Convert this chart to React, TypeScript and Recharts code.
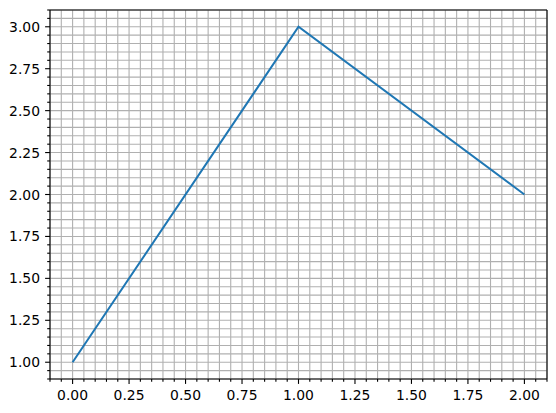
import { LineChart, Line, XAxis, YAxis, CartesianGrid } from 'recharts';

// values
const xValues = [0, 1, 2];
const yValues = [1, 3, 2];

// minor ticks every 0.05, majors every 0.25
const xTicks = [-0.1, -0.05, 0, 0.05, 0.1, 0.15, 0.2, 0.25, 0.3, 0.35, 0.4, 0.45, 0.5, 0.55, 0.6, 0.65, 0.7, 0.75, 0.8, 0.85, 0.9, 0.95, 1, 1.05, 1.1, 1.15, 1.2, 1.25, 1.3, 1.35, 1.4, 1.45, 1.5, 1.55, 1.6, 1.65, 1.7, 1.75, 1.8, 1.85, 1.9, 1.95, 2, 2.05, 2.1];
const yTicks = [0.9, 0.95, 1, 1.05, 1.1, 1.15, 1.2, 1.25, 1.3, 1.35, 1.4, 1.45, 1.5, 1.55, 1.6, 1.65, 1.7, 1.75, 1.8, 1.85, 1.9, 1.95, 2, 2.05, 2.1, 2.15, 2.2, 2.25, 2.3, 2.35, 2.4, 2.45, 2.5, 2.55, 2.6, 2.65, 2.7, 2.75, 2.8, 2.85, 2.9, 2.95, 3, 3.05, 3.1];

const data = xValues.map((x, i) => ({ x, y: yValues[i] }));

const FONT = '"DejaVu Sans", sans-serif';
const isMajor = (v: number) => Math.abs(v * 4 - Math.round(v * 4)) < 1e-6;

function XTick({ x, y, payload }: any) {
  const v = payload.value as number;
  const major = isMajor(v);
  return (
    <g>
      <line x1={x} x2={x} y1={y} y2={y + (major ? 4.9 : 2.8)} stroke="#000" strokeWidth={1.1} />
      {major && (
        <text x={x} y={y + 21} textAnchor="middle" fontFamily={FONT} fontSize={13.9} fill="#000">
          {v.toFixed(2)}
        </text>
      )}
    </g>
  );
}

function YTick({ x, y, payload }: any) {
  const v = payload.value as number;
  const major = isMajor(v);
  return (
    <g>
      <line x1={x} x2={x - (major ? 4.9 : 2.8)} y1={y} y2={y} stroke="#000" strokeWidth={1.1} />
      {major && (
        <text x={x - 10} y={y} dy="0.36em" textAnchor="end" fontFamily={FONT} fontSize={13.9} fill="#000">
          {v.toFixed(2)}
        </text>
      )}
    </g>
  );
}

export default function App() {
  return (
    <div style={{ position: 'absolute', left: 0, top: 0, width: 556, height: 413, background: '#fff' }}>
      <LineChart width={556} height={413} data={data} margin={{ top: 10, right: 9, left: 0, bottom: 0 }}>
        <CartesianGrid stroke="#b0b0b0" strokeWidth={1.1} />
        <XAxis
          dataKey="x"
          type="number"
          domain={[-0.1, 2.1]}
          ticks={xTicks}
          interval={0}
          height={34}
          tickSize={0}
          tickMargin={0}
          tickLine={false}
          axisLine={false}
          tick={<XTick />}
        />
        <YAxis
          type="number"
          domain={[0.9, 3.1]}
          ticks={yTicks}
          interval={0}
          width={50}
          tickSize={0}
          tickMargin={0}
          tickLine={false}
          axisLine={false}
          tick={<YTick />}
        />
        <Line dataKey="y" stroke="#1f77b4" strokeWidth={2} dot={false} isAnimationActive={false} />
        {/* axes frame, drawn last so it sits above the grid */}
        <CartesianGrid
          stroke="#000"
          strokeWidth={1.1}
          fill="none"
          horizontalPoints={[10, 379]}
          verticalPoints={[50, 547]}
        />
      </LineChart>
    </div>
  );
}
